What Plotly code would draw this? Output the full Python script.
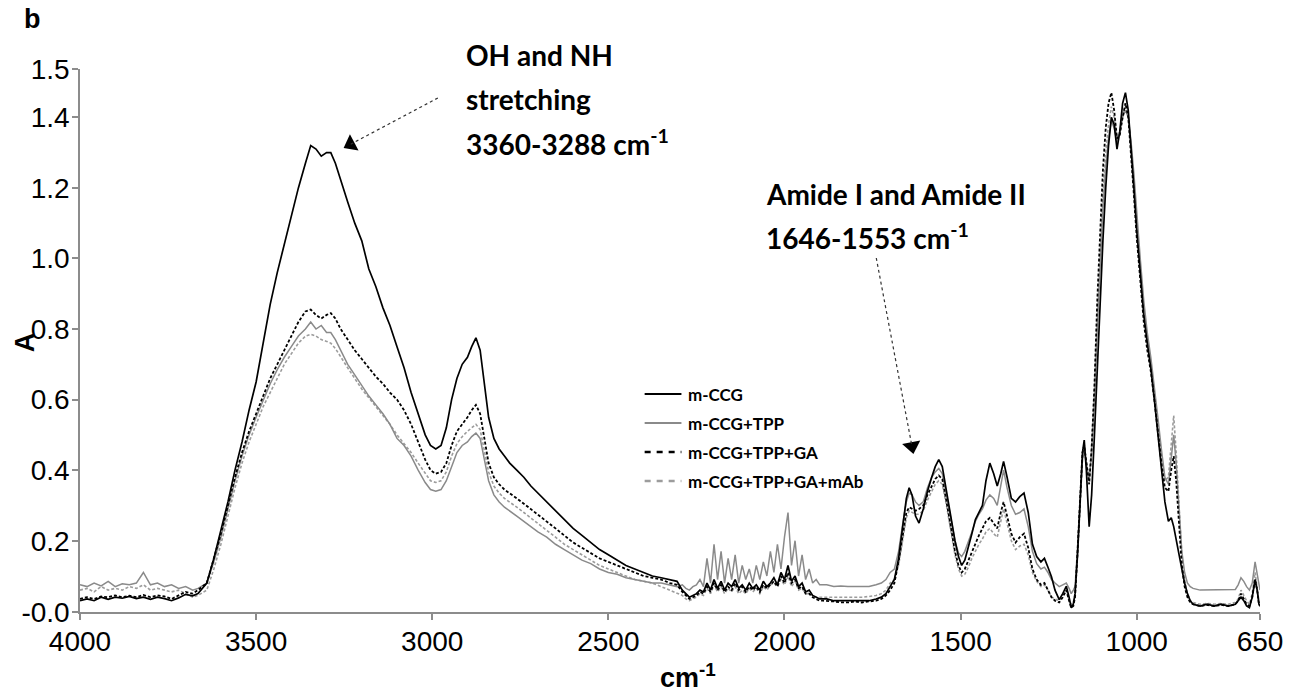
import math
import plotly.graph_objects as go

# ---- FTIR spectra: wavenumber (cm-1) and absorbance of each sample ----
wavenumber = [
    4000, 3980, 3960, 3940, 3920, 3900, 3880, 3860, 3840, 3820, 3800, 3780, 3760, 3740, 3720, 3700, 3680, 3665,
    3640, 3620, 3600, 3580, 3560, 3540, 3520, 3500, 3480, 3460, 3440, 3420, 3400, 3380, 3360, 3345, 3330, 3315,
    3300, 3288, 3275, 3260, 3240, 3220, 3200, 3180, 3160, 3140, 3120, 3100, 3080, 3060, 3040, 3020, 3005,
    2990, 2975, 2960, 2945, 2930, 2915, 2900, 2888, 2876, 2864, 2852, 2840, 2825, 2810, 2795, 2780, 2760, 2740,
    2720, 2700, 2675, 2650, 2625, 2600, 2575, 2550, 2525, 2500, 2475, 2450, 2425, 2400, 2375, 2350, 2325, 2305,
    2290, 2280, 2270, 2260, 2250, 2240, 2230, 2220, 2210, 2200, 2190, 2180, 2170, 2160, 2150, 2140, 2130, 2120,
    2110, 2100, 2090, 2080, 2070, 2060, 2050, 2040, 2030, 2020, 2010, 2000, 1990, 1980, 1970, 1960, 1950, 1940,
    1930, 1920, 1910, 1900, 1890,
    1880, 1860, 1840, 1820, 1800, 1780, 1760, 1740, 1725, 1712, 1700,
    1688, 1676, 1664, 1654, 1646, 1638, 1628, 1618, 1606, 1594, 1582, 1572, 1562, 1552, 1540, 1528, 1516, 1506,
    1497, 1488, 1478, 1468, 1458, 1448, 1438, 1428, 1417, 1406, 1396, 1386, 1378, 1368, 1356, 1344, 1332, 1320,
    1308, 1296, 1284, 1272, 1262, 1252, 1242, 1232, 1220, 1210, 1200, 1192, 1186, 1180,
    1175, 1168, 1160, 1154, 1149, 1143, 1135, 1128, 1120, 1112, 1104, 1096, 1088, 1080, 1072, 1064, 1056, 1048,
    1040, 1032, 1024, 1016, 1008, 1000, 990, 980, 970, 960, 950, 940, 930, 920, 910, 902, 895, 888, 880, 872,
    864, 856, 848, 840, 820, 800, 780, 760, 740, 720, 712, 704, 696, 688, 680, 672, 664, 658, 653, 650,
]

# m-CCG
abs_ccg = [
    0.030, 0.035, 0.030, 0.040, 0.034, 0.040, 0.037, 0.042, 0.036, 0.040, 0.034, 0.040, 0.036, 0.030, 0.038, 0.048, 0.044, 0.050,
    0.08, 0.15, 0.23, 0.31, 0.40, 0.48, 0.57, 0.65, 0.76, 0.87, 0.96, 1.04, 1.12, 1.20, 1.27, 1.32, 1.31, 1.29,
    1.30, 1.30, 1.27, 1.22, 1.16, 1.10, 1.05, 0.97, 0.92, 0.86, 0.81, 0.75, 0.69, 0.62, 0.56, 0.50, 0.47,
    0.46, 0.47, 0.52, 0.60, 0.66, 0.70, 0.72, 0.75, 0.775, 0.74, 0.64, 0.55, 0.49, 0.46, 0.44, 0.42, 0.40, 0.38,
    0.355, 0.335, 0.31, 0.285, 0.26, 0.235, 0.215, 0.195, 0.175, 0.16, 0.145, 0.13, 0.12, 0.11, 0.10, 0.095, 0.09, 0.085,
    0.06, 0.05, 0.04, 0.045, 0.05, 0.06, 0.055, 0.08, 0.06, 0.09, 0.065, 0.085, 0.06, 0.08, 0.07, 0.09, 0.065, 0.075,
    0.06, 0.08, 0.065, 0.075, 0.06, 0.085, 0.07, 0.08, 0.095, 0.075, 0.11, 0.09, 0.13, 0.085, 0.10, 0.07, 0.08, 0.055,
    0.06, 0.045, 0.04, 0.035, 0.035,
    0.035, 0.03, 0.03, 0.028, 0.03, 0.028, 0.03, 0.035, 0.04, 0.05, 0.07,
    0.09, 0.15, 0.24, 0.32, 0.35, 0.33, 0.27, 0.25, 0.29, 0.34, 0.38, 0.41, 0.43, 0.41, 0.34, 0.27, 0.20, 0.155,
    0.13, 0.145, 0.18, 0.22, 0.26, 0.28, 0.30, 0.37, 0.42, 0.39, 0.355, 0.39, 0.425, 0.38, 0.32, 0.31, 0.325, 0.335,
    0.28, 0.19, 0.155, 0.14, 0.15, 0.125, 0.098, 0.06, 0.033, 0.05, 0.071, 0.04, 0.01, 0.02,
    0.05, 0.16, 0.33, 0.45, 0.485, 0.40, 0.24, 0.33, 0.50, 0.70, 0.88, 1.05, 1.20, 1.32, 1.40, 1.38, 1.31, 1.36,
    1.44, 1.47, 1.42, 1.32, 1.20, 1.08, 0.95, 0.84, 0.76, 0.69, 0.60, 0.50, 0.40, 0.31, 0.255, 0.265, 0.24, 0.20, 0.16, 0.12,
    0.08, 0.05, 0.03, 0.02, 0.015, 0.02, 0.015, 0.02, 0.015, 0.02, 0.03, 0.04, 0.03, 0.015, 0.01, 0.04, 0.09, 0.06, 0.02, 0.015,
]

# m-CCG+TPP
abs_ccg_tpp = [
    0.075, 0.070, 0.080, 0.072, 0.085, 0.070, 0.078, 0.075, 0.080, 0.110, 0.075, 0.080, 0.070, 0.075, 0.065, 0.070, 0.060, 0.065,
    0.08, 0.14, 0.21, 0.29, 0.37, 0.44, 0.50, 0.55, 0.60, 0.645, 0.685, 0.72, 0.75, 0.78, 0.80, 0.82, 0.80, 0.81,
    0.79, 0.79, 0.77, 0.74, 0.70, 0.67, 0.64, 0.61, 0.585, 0.56, 0.53, 0.49, 0.47, 0.44, 0.40, 0.365, 0.345,
    0.34, 0.345, 0.37, 0.41, 0.45, 0.47, 0.48, 0.495, 0.505, 0.49, 0.43, 0.37, 0.33, 0.31, 0.295, 0.285, 0.27, 0.255,
    0.24, 0.225, 0.21, 0.19, 0.175, 0.16, 0.145, 0.135, 0.12, 0.11, 0.105, 0.095, 0.09, 0.085, 0.08, 0.08, 0.075, 0.07,
    0.075, 0.065, 0.06, 0.07, 0.075, 0.09, 0.07, 0.15, 0.08, 0.19, 0.09, 0.17, 0.08, 0.15, 0.09, 0.16, 0.08, 0.13,
    0.09, 0.12, 0.08, 0.13, 0.09, 0.14, 0.10, 0.17, 0.11, 0.19, 0.12, 0.21, 0.28, 0.13, 0.20, 0.10, 0.16, 0.09,
    0.12, 0.08, 0.09, 0.075, 0.075,
    0.075, 0.07, 0.072, 0.07, 0.07, 0.072, 0.07, 0.075, 0.08, 0.09, 0.11,
    0.12, 0.17, 0.25, 0.31, 0.335, 0.33, 0.31, 0.30, 0.31, 0.35, 0.38, 0.395, 0.405, 0.39, 0.33, 0.26, 0.20, 0.165,
    0.155, 0.17, 0.195, 0.225, 0.255, 0.275, 0.29, 0.315, 0.33, 0.32, 0.30, 0.36, 0.40, 0.35, 0.30, 0.275, 0.28, 0.29,
    0.24, 0.17, 0.135, 0.12, 0.125, 0.11, 0.09, 0.08, 0.07, 0.075, 0.08, 0.065, 0.05, 0.06,
    0.07, 0.18, 0.33, 0.43, 0.46, 0.42, 0.37, 0.45, 0.60, 0.80, 0.99, 1.14, 1.26, 1.34, 1.39, 1.37, 1.33, 1.36,
    1.40, 1.42, 1.40, 1.33, 1.24, 1.12, 1.00, 0.88, 0.79, 0.72, 0.64, 0.55, 0.46, 0.38, 0.36, 0.44, 0.50, 0.42, 0.28, 0.17,
    0.11, 0.08, 0.07, 0.065, 0.06, 0.06, 0.062, 0.06, 0.06, 0.062, 0.075, 0.095, 0.085, 0.07, 0.06, 0.08, 0.14, 0.10, 0.07, 0.06,
]

# m-CCG+TPP+GA
abs_ccg_tpp_ga = [
    0.035, 0.040, 0.035, 0.042, 0.040, 0.045, 0.040, 0.044, 0.040, 0.046, 0.040, 0.045, 0.042, 0.035, 0.045, 0.055, 0.050, 0.060,
    0.08, 0.15, 0.22, 0.30, 0.38, 0.45, 0.51, 0.56, 0.61, 0.66, 0.70, 0.74, 0.78, 0.82, 0.85, 0.855, 0.84, 0.83,
    0.84, 0.845, 0.83, 0.80, 0.77, 0.74, 0.715, 0.69, 0.665, 0.645, 0.62, 0.60, 0.57, 0.53, 0.48, 0.43, 0.40,
    0.39, 0.395, 0.42, 0.47, 0.51, 0.53, 0.55, 0.57, 0.585, 0.56, 0.49, 0.42, 0.38, 0.36, 0.345, 0.335, 0.32, 0.305,
    0.29, 0.275, 0.255, 0.235, 0.215, 0.195, 0.18, 0.165, 0.15, 0.14, 0.13, 0.12, 0.11, 0.10, 0.095, 0.09, 0.08, 0.075,
    0.055, 0.045, 0.035, 0.04, 0.045, 0.055, 0.05, 0.07, 0.055, 0.08, 0.06, 0.075, 0.055, 0.07, 0.06, 0.08, 0.06, 0.07,
    0.055, 0.07, 0.06, 0.07, 0.055, 0.075, 0.065, 0.075, 0.085, 0.07, 0.10, 0.08, 0.11, 0.08, 0.09, 0.065, 0.07, 0.05,
    0.05, 0.04, 0.035, 0.03, 0.03,
    0.03, 0.028, 0.025, 0.025, 0.028, 0.025, 0.028, 0.03, 0.035, 0.045, 0.06,
    0.08, 0.14, 0.22, 0.28, 0.295, 0.29, 0.285, 0.29, 0.30, 0.33, 0.355, 0.375, 0.385, 0.375, 0.31, 0.24, 0.17, 0.13,
    0.11, 0.12, 0.145, 0.17, 0.195, 0.215, 0.235, 0.255, 0.265, 0.25, 0.235, 0.28, 0.31, 0.27, 0.22, 0.195, 0.21, 0.22,
    0.18, 0.12, 0.09, 0.075, 0.08, 0.06, 0.04, 0.03, 0.025, 0.04, 0.06, 0.03, 0.01, 0.015,
    0.04, 0.17, 0.34, 0.45, 0.47, 0.42, 0.36, 0.46, 0.64, 0.88, 1.08, 1.25, 1.37, 1.44, 1.47, 1.42, 1.34, 1.35,
    1.40, 1.44, 1.40, 1.30, 1.18, 1.06, 0.93, 0.82, 0.74, 0.68, 0.60, 0.51, 0.42, 0.35, 0.34, 0.40, 0.44, 0.37, 0.24, 0.13,
    0.07, 0.04, 0.025, 0.02, 0.015, 0.018, 0.015, 0.018, 0.015, 0.02, 0.03, 0.05, 0.035, 0.02, 0.015, 0.04, 0.09, 0.06, 0.02, 0.015,
]

# m-CCG+TPP+GA+mAb
abs_ccg_tpp_ga_mab = [
    0.060, 0.065, 0.055, 0.070, 0.060, 0.065, 0.060, 0.070, 0.065, 0.075, 0.060, 0.065, 0.060, 0.055, 0.060, 0.050, 0.040, 0.045,
    0.06, 0.12, 0.19, 0.27, 0.35, 0.42, 0.48, 0.53, 0.58, 0.62, 0.66, 0.70, 0.73, 0.76, 0.78, 0.785, 0.78, 0.77,
    0.765, 0.76, 0.745, 0.72, 0.69, 0.66, 0.63, 0.605, 0.58, 0.555, 0.53, 0.50, 0.475, 0.45, 0.42, 0.39, 0.37,
    0.365, 0.37, 0.395, 0.44, 0.475, 0.495, 0.51, 0.52, 0.53, 0.515, 0.455, 0.395, 0.355, 0.335, 0.32, 0.31, 0.295, 0.28,
    0.265, 0.25, 0.23, 0.21, 0.19, 0.175, 0.16, 0.145, 0.13, 0.12, 0.11, 0.10, 0.09, 0.085, 0.08, 0.07, 0.06, 0.05,
    0.045, 0.035, 0.03, 0.035, 0.04, 0.05, 0.045, 0.065, 0.05, 0.075, 0.055, 0.07, 0.05, 0.065, 0.055, 0.07, 0.05, 0.06,
    0.05, 0.065, 0.055, 0.065, 0.05, 0.07, 0.06, 0.075, 0.08, 0.07, 0.09, 0.075, 0.10, 0.07, 0.085, 0.06, 0.065, 0.05,
    0.05, 0.045, 0.04, 0.04, 0.04,
    0.04, 0.038, 0.04, 0.038, 0.04, 0.04, 0.042, 0.045, 0.05, 0.06, 0.08,
    0.09, 0.13, 0.21, 0.265, 0.285, 0.28, 0.275, 0.275, 0.285, 0.315, 0.34, 0.36, 0.37, 0.36, 0.30, 0.23, 0.16, 0.12,
    0.10, 0.105, 0.125, 0.15, 0.17, 0.19, 0.205, 0.225, 0.235, 0.22, 0.21, 0.26, 0.29, 0.25, 0.20, 0.175, 0.185, 0.19,
    0.16, 0.11, 0.085, 0.07, 0.075, 0.06, 0.04, 0.035, 0.03, 0.045, 0.06, 0.035, 0.02, 0.025,
    0.05, 0.16, 0.32, 0.43, 0.45, 0.42, 0.38, 0.47, 0.63, 0.84, 1.03, 1.18, 1.30, 1.38, 1.43, 1.40, 1.34, 1.36,
    1.41, 1.43, 1.40, 1.32, 1.21, 1.09, 0.96, 0.85, 0.77, 0.70, 0.62, 0.53, 0.44, 0.37, 0.38, 0.48, 0.555, 0.45, 0.29, 0.16,
    0.09, 0.05, 0.03, 0.025, 0.02, 0.022, 0.02, 0.022, 0.02, 0.025, 0.035, 0.06, 0.045, 0.03, 0.02, 0.05, 0.11, 0.07, 0.03, 0.025,
]

series_names = ["m-CCG", "m-CCG+TPP", "m-CCG+TPP+GA", "m-CCG+TPP+GA+mAb"]
x_tick_values = [4000, 3500, 3000, 2500, 2000, 1500, 1000, 650]
y_axis_min, y_axis_max = -0.002, 1.537
y_tick_values = [y_axis_min, 0.2, 0.4, 0.6, 0.8, 1.0, 1.2, 1.4, y_axis_max]
y_tick_labels = ["-0.0", "0.2", "0.4", "0.6", "0.8", "1.0", "1.2", "1.4", "1.5"]

for s in (abs_ccg, abs_ccg_tpp, abs_ccg_tpp_ga, abs_ccg_tpp_ga_mab):
    assert len(s) == len(wavenumber), (len(s), len(wavenumber))

# ---- page geometry (pixels) ----
W, H = 1295, 696
PL, PR, PT, PB = 80, 1267, 69, 612
X_LEFT, X_RIGHT = 4000, 650


def paper(px, py):
    return (px - PL) / (PR - PL), (PB - py) / (PB - PT)


def to_data(px, py):
    """Pixel position on the page -> (wavenumber, absorbance)."""
    fx, fy = paper(px, py)
    return X_LEFT + fx * (X_RIGHT - X_LEFT), y_axis_min + fy * (y_axis_max - y_axis_min)


styles = [
    dict(color="#000000", width=1.7, dash="solid"),
    dict(color="#8a8a8a", width=1.5, dash="solid"),
    dict(color="#000000", width=1.8, dash="3px,2px"),
    dict(color="#9c9c9c", width=1.6, dash="3px,2px"),
]
values = [abs_ccg, abs_ccg_tpp, abs_ccg_tpp_ga, abs_ccg_tpp_ga_mab]

fig = go.Figure()
for idx in (3, 1, 2, 0):
    fig.add_trace(go.Scatter(
        x=wavenumber, y=values[idx], mode="lines", name=series_names[idx],
        line=styles[idx], showlegend=False, hoverinfo="skip",
    ))

TICK_FONT = dict(family="Liberation Sans, Arial, sans-serif", size=28, color="#000000")
LABEL_FONT = dict(family="Lato, Open Sans, sans-serif", size=28, color="#000000", weight="bold")
LEGEND_FONT = dict(family="Lato, Open Sans, sans-serif", size=17, color="#000000", weight="bold")
AXIS_TITLE_FONT = dict(family="Liberation Sans, Arial, sans-serif", size=27, color="#000000", weight="bold")

annotations = []
shapes = []


def text_at(txt, px, py, font, xanchor="left", textangle=0):
    x, y = paper(px, py)
    annotations.append(dict(
        text=txt, x=x, y=y, xref="paper", yref="paper", showarrow=False,
        xanchor=xanchor, yanchor="middle", font=font, textangle=textangle,
    ))


# panel letter and axis titles
text_at("b", 32, 19, AXIS_TITLE_FONT, xanchor="center")
text_at("A", 25, 342, AXIS_TITLE_FONT, xanchor="center", textangle=-90)
text_at("cm<sup>-1</sup>", 692, 676, AXIS_TITLE_FONT, xanchor="center")

# band labels
text_at("OH and NH", 466, 55, LABEL_FONT)
text_at("stretching", 466, 99, LABEL_FONT)
text_at("3360-3288 cm<sup>-1</sup>", 466, 142, LABEL_FONT)
text_at("Amide I and Amide II", 768, 194, LABEL_FONT)
text_at("1646-1553 cm<sup>-1</sup>", 768, 236, LABEL_FONT)

# pointer arrows: dotted shaft ending in a filled triangular head
head_x, head_y, head_angle = [], [], []
for (sx, sy, tx, ty) in [(440, 98, 347, 147), (881, 258, 918, 452)]:
    dx, dy = tx - sx, ty - sy
    n = math.hypot(dx, dy)
    ux, uy = dx / n, dy / n
    cx, cy = tx - ux * 6, ty - uy * 6
    x0, y0 = to_data(sx, sy)
    x1, y1 = to_data(cx, cy)
    shapes.append(dict(type="line", xref="x", yref="y", x0=x0, y0=y0, x1=x1, y1=y1,
                       line=dict(color="#333333", width=1.2, dash="dot")))
    head_x.append(x1)
    head_y.append(y1)
    head_angle.append(math.degrees(math.atan2(ux, -uy)))

fig.add_trace(go.Scatter(
    x=head_x, y=head_y, mode="markers", showlegend=False, hoverinfo="skip",
    marker=dict(symbol="triangle-up", size=16, color="#000000", angle=head_angle,
                line=dict(width=0)),
))

# legend drawn as line samples + labels
legend_rows = [394, 423, 452, 481]
legend_styles = [
    dict(color="#000000", width=2.2, dash="solid"),
    dict(color="#8a8a8a", width=2.2, dash="solid"),
    dict(color="#000000", width=2.6, dash="6px,6px"),
    dict(color="#9c9c9c", width=2.6, dash="6px,6px"),
]
for name, row, st in zip(series_names, legend_rows, legend_styles):
    xa, ya = paper(648, row)
    xb, _ = paper(685, row)
    shapes.append(dict(type="line", xref="paper", yref="paper", x0=xa, y0=ya, x1=xb, y1=ya, line=st))
    text_at(name, 690, row, LEGEND_FONT)

axis_common = dict(
    showline=True, linecolor="#8c8c8c", linewidth=1.5, ticks="outside", ticklen=6,
    tickcolor="#8c8c8c", tickwidth=1.5, showgrid=False, zeroline=False, tickfont=TICK_FONT,
)

fig.update_layout(
    width=W, height=H, autosize=False,
    margin=dict(l=PL, r=W - PR, t=PT, b=H - PB),
    paper_bgcolor="white", plot_bgcolor="white",
    xaxis=dict(range=[X_LEFT, X_RIGHT], tickvals=x_tick_values,
               ticktext=[str(v) for v in x_tick_values], ticklabelstandoff=-2, **axis_common),
    yaxis=dict(range=[y_axis_min, y_axis_max], tickvals=y_tick_values, ticktext=y_tick_labels,
               ticklabelstandoff=-3, **axis_common),
    annotations=annotations, shapes=shapes, showlegend=False,
)

fig.write_html("out.html", config={"displayModeBar": False})
